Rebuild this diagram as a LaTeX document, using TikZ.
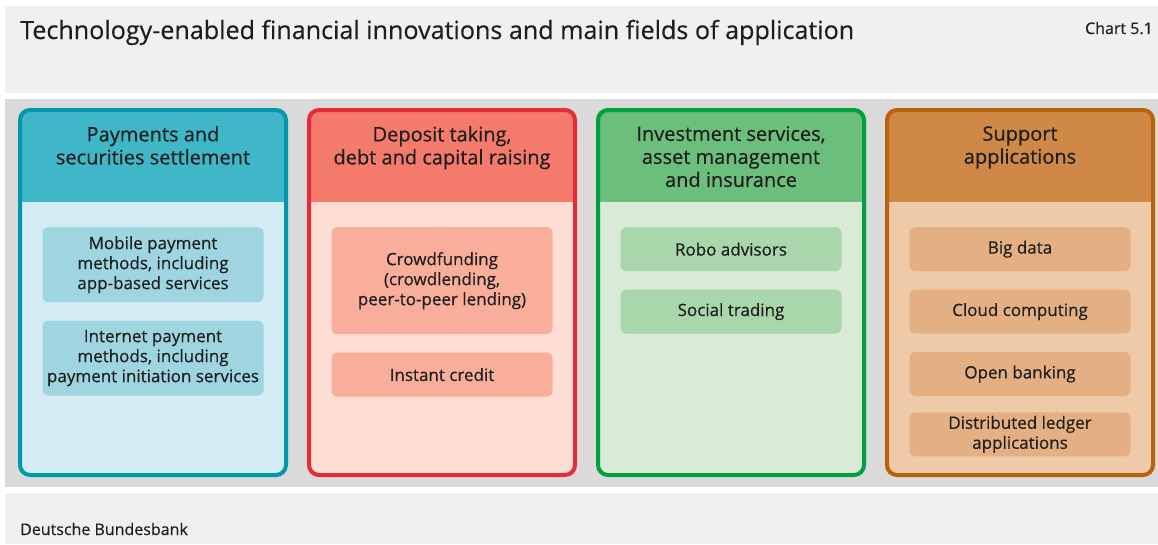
\documentclass[tikz,border=0pt]{standalone}
\usepackage{fontspec}
\setmainfont{Open Sans}[FakeBold=0.4]
\usetikzlibrary{positioning}
\definecolor{txt}{HTML}{1E1E1E}
\definecolor{barbg}{HTML}{F0F0F0}
\definecolor{mainbg}{HTML}{DADADA}
\definecolor{paybd}{HTML}{0098AA}\definecolor{payhd}{HTML}{40B7C9}\definecolor{paybg}{HTML}{D3EBF2}\definecolor{payit}{HTML}{9ED5E1}
\definecolor{depbd}{HTML}{E52A38}\definecolor{dephd}{HTML}{F47B6C}\definecolor{depbg}{HTML}{FEDDD4}\definecolor{depit}{HTML}{F9AE9C}
\definecolor{invbd}{HTML}{00A040}\definecolor{invhd}{HTML}{6BBE7B}\definecolor{invbg}{HTML}{D9EBD7}\definecolor{invit}{HTML}{A9D6AA}
\definecolor{supbd}{HTML}{B9620B}\definecolor{suphd}{HTML}{D08846}\definecolor{supbg}{HTML}{EECAA8}\definecolor{supit}{HTML}{E4B083}
\begin{document}
\begin{tikzpicture}[x=1pt,y=-1pt,text=txt,
  panel/.style={draw=#1bd,line width=4pt,rounded corners=10pt,fill=#1hd,minimum width=266pt,minimum height=365pt,
    path picture={\fill[#1bg,sharp corners] ([yshift=-92pt]path picture bounding box.north west) rectangle (path picture bounding box.south east);}},
  head/.style={anchor=north,align=center,inner sep=0pt,yshift=-18pt,font=\fontsize{20}{23}\selectfont},
  item/.style={fill=#1it,rounded corners=6pt,align=center,inner sep=0pt,minimum width=221pt,minimum height=44pt,font=\fontsize{17}{20}\selectfont},
  node distance=18pt and 19pt]
  \useasboundingbox (0,0) rectangle (1158,544);
  % background bars
  \fill[barbg] (5,6) rectangle (1158,93);
  \fill[mainbg] (5,99) rectangle (1158,487);
  \fill[barbg] (5,493) rectangle (1158,544);
  \node[anchor=base west,inner sep=0pt,font=\fontsize{25.1}{29}\selectfont] (title) at (20,39) {Technology-enabled financial innovations and main fields of application};
  \node[anchor=base east,inner sep=0pt,font=\fontsize{16}{19}\selectfont] (chart) at (1153,34) {Chart 5.1};
  \node[anchor=base west,inner sep=0pt,font=\fontsize{16}{19}\selectfont] (source) at (20,535) {Deutsche Bundesbank};
  % columns
  \node[panel=pay] (pay) at (153,292.5) {};
  \node[panel=dep,right=of pay] (dep) {};
  \node[panel=inv,right=of dep] (inv) {};
  \node[panel=sup,right=of inv] (sup) {};
  \node[head] (payh) at (pay.north) {Payments and\\securities settlement};
  \node[head] (deph) at (dep.north) {Deposit taking,\\debt and capital raising};
  \node[head] (invh) at (inv.north) {Investment services,\\asset management\\and insurance};
  \node[head] (suph) at (sup.north) {Support\\applications};
  % fields of application
  \node[item=pay,minimum height=75pt,below=119pt of pay.north] (mob) {Mobile payment\\methods, including\\app-based services};
  \node[item=pay,minimum height=75pt,below=of mob] (inet) {Internet payment\\methods, including\\payment initiation services};
  \node[item=dep,minimum height=107pt,below=119pt of dep.north] (crowd) {Crowdfunding\\(crowdlending,\\peer-to-peer lending)};
  \node[item=dep,below=of crowd] (instant) {Instant credit};
  \node[item=inv,below=119pt of inv.north] (robo) {Robo advisors};
  \node[item=inv,below=of robo] (social) {Social trading};
  \node[item=sup,below=119pt of sup.north] (bigdata) {Big data};
  \node[item=sup,below=of bigdata] (cloud) {Cloud computing};
  \node[item=sup,below=of cloud] (openb) {Open banking};
  \node[item=sup,below=16pt of openb] (dlt) {Distributed ledger\\applications};
\end{tikzpicture}
\end{document}
